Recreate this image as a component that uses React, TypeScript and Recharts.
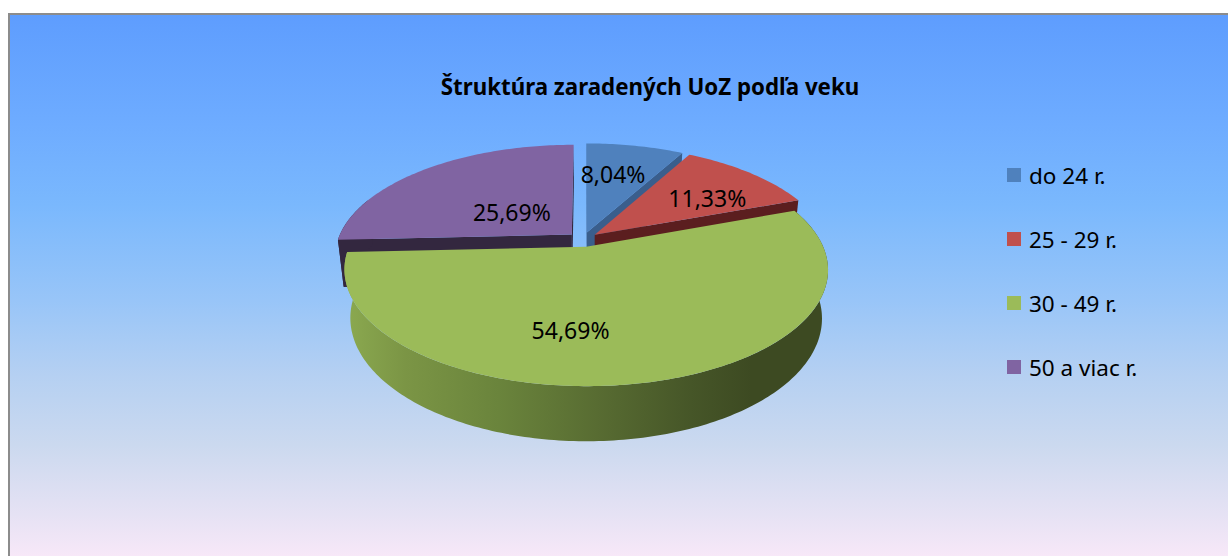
import React from 'react';
import { PieChart, Pie, Legend } from 'recharts';

// ---------- data ----------
const categories = ['do 24 r.', '25 - 29 r.', '30 - 49 r.', '50 a viac r.'];
const shares = [8.04, 11.33, 54.69, 25.69];
const valueLabels = ['8,04%', '11,33%', '54,69%', '25,69%'];
const chartTitle = 'Štruktúra zaradených UoZ podľa veku';

const data = categories.map((name, i) => ({ name, value: shares[i] }));

// ---------- style ----------
const TOP_COLORS = ['#4f81bd', '#c0504d', '#9bbb59', '#8064a2'];
const SIDE_COLORS = ['#3a5e8c', '#5b1e1f', 'url(#greenSide)', '#33273f'];
const LABEL_PLACEMENT = [
  { k: 0.63, dt: -2.7 },
  { k: 0.64, dt: 5.4 },
  { k: 0.65, dt: 16.6 },
  { k: 0.35, dt: -4.6 },
];
const FONT = '"Noto Sans", "Open Sans", sans-serif';

// perspective parameters (unit disk)
const DIST = 4.53;
const SIN_A = 0.466;
const COS_A = 0.885;
const THICK = 0.234;
const EXPLODE = 0.0665;
const CAM_Z = DIST * COS_A;

const rad = (d: number) => (d * Math.PI) / 180;

function geom(p: any) {
  const { cx, cy, outerRadius, startAngle, endAngle, index } = p;
  const t1 = 90 - startAngle;
  const t2 = 90 - endAngle;
  const tm = (t1 + t2) / 2;
  const ex = EXPLODE * Math.sin(rad(tm));
  const ez = -EXPLODE * Math.cos(rad(tm));
  const F = outerRadius * DIST;
  const proj = (X: number, Z: number, H: number) => {
    const depth = DIST - (Z * COS_A + H * SIN_A);
    return [cx + (F * X) / depth, cy + (F * (Z * SIN_A - H * COS_A)) / depth];
  };
  const pt = (t: number, r: number, H: number) =>
    proj(r * Math.sin(rad(t)) + ex, -r * Math.cos(rad(t)) + ez, H);
  const arc = (a: number, b: number, H: number) => {
    const n = Math.max(2, Math.ceil(Math.abs(b - a)));
    const out: number[][] = [];
    for (let i = 0; i <= n; i++) out.push(pt(a + ((b - a) * i) / n, 1, H));
    return out;
  };
  return { t1, t2, tm, ex, ez, pt, arc, cx, outerRadius, index };
}

const toPath = (pts: number[][]) =>
  pts.map((q, i) => `${i ? 'L' : 'M'}${q[0].toFixed(2)},${q[1].toFixed(2)}`).join(' ') + ' Z';

function renderWalls(p: any, front: boolean) {
  const g = geom(p);
  const isFront = Math.cos(rad(g.tm)) < 0;
  if (isFront !== front) return <g key={`w${p.index}`} />;
  const fill = SIDE_COLORS[g.index];
  const parts: React.ReactNode[] = [];
  const faces: [number, number][] = [
    [g.t1, -1],
    [g.t2, 1],
  ];
  faces.forEach(([t, s], j) => {
    const nx = s * Math.cos(rad(t));
    const nz = s * Math.sin(rad(t));
    const vx = 0 - g.ex;
    const vz = CAM_Z - g.ez;
    if (nx * vx + nz * vz > 0) {
      const quad = [g.pt(t, 0, 0), g.pt(t, 1, 0), g.pt(t, 1, -THICK), g.pt(t, 0, -THICK)];
      parts.push(<path key={`f${j}`} d={toPath(quad)} fill={fill} />);
    }
  });
  const a = Math.max(g.t1, 70);
  const b = Math.min(g.t2, 290);
  if (b > a) {
    const pts = [...g.arc(a, b, 0), ...g.arc(b, a, -THICK)];
    parts.push(<path key="rim" d={toPath(pts)} fill={fill} />);
  }
  const x0 = g.cx - g.outerRadius;
  const x1 = g.cx + g.outerRadius;
  return (
    <g key={`w${p.index}`}>
      <defs>
        <linearGradient id="greenSide" gradientUnits="userSpaceOnUse" x1={x0} y1={0} x2={x1} y2={0}>
          <stop offset="0" stopColor="#8aa84f" />
          <stop offset="0.12" stopColor="#7b9545" />
          <stop offset="0.32" stopColor="#6a843c" />
          <stop offset="0.53" stopColor="#586c32" />
          <stop offset="0.73" stopColor="#465628" />
          <stop offset="0.86" stopColor="#3d4a22" />
          <stop offset="1" stopColor="#3d4a22" />
        </linearGradient>
      </defs>
      {parts}
    </g>
  );
}

function renderTop(p: any) {
  const g = geom(p);
  const pts = [g.pt(0, 0, 0), ...g.arc(g.t1, g.t2, 0)];
  return <path key={`t${p.index}`} d={toPath(pts)} fill={TOP_COLORS[g.index]} />;
}

function renderText(p: any) {
  const g = geom(p);
  const lp = LABEL_PLACEMENT[g.index];
  const [x, y] = g.pt(g.tm + lp.dt, lp.k, 0);
  return (
    <text
      key={`l${p.index}`}
      x={x}
      y={y}
      textAnchor="middle"
      dominantBaseline="central"
      fontFamily={FONT}
      fontSize={23}
      fill="#000"
    >
      {valueLabels[g.index]}
    </text>
  );
}

function renderLegend(props: any) {
  const seen = new Set<string>();
  (props.payload || []).forEach((it: any) => seen.add(it.value));
  const list = seen.size ? categories.filter((c) => seen.has(c)) : categories;
  return (
    <div style={{ fontFamily: FONT, fontSize: 22.5, color: '#000' }}>
      {list.map((n) => {
        const i = categories.indexOf(n);
        return (
          <div key={n} style={{ display: 'flex', alignItems: 'center', height: 64 }}>
            <span style={{ width: 14, height: 14, background: TOP_COLORS[i], marginRight: 8, flex: 'none' }} />
            <span style={{ whiteSpace: 'nowrap' }}>{n}</span>
          </div>
        );
      })}
    </div>
  );
}

const pieCommon = {
  data,
  dataKey: 'value',
  nameKey: 'name',
  cx: 583,
  cy: 239.5,
  outerRadius: 234,
  startAngle: 90,
  endAngle: -270,
  isAnimationActive: false,
  fill: 'none',
  stroke: 'none',
  labelLine: false,
};

export default function App() {
  return (
    <div style={{ position: 'relative', width: 1228, height: 556, overflow: 'hidden' }}>
      <style>{`body{margin:0;overflow:hidden}`}</style>
      <div
        style={{
          position: 'absolute',
          left: 8,
          top: 13,
          width: 1220,
          height: 543,
          boxSizing: 'border-box',
          borderTop: '2px solid #8c8c8c',
          borderLeft: '2px solid #8c8c8c',
          background:
            'linear-gradient(180deg, #5e9dfe 0px, #6eacff 110px, #7ab8fd 190px, #98c5f8 285px, #b5d0f2 360px, #cbd9ef 430px, #e6e2f4 500px, #f8e8f8 543px)',
        }}
      />
      <div
        style={{
          position: 'absolute',
          left: 36,
          top: 75,
          width: 1228,
          textAlign: 'center',
          fontFamily: FONT,
          fontWeight: 700,
          fontSize: 22.3,
          lineHeight: '24px',
          color: '#000',
        }}
      >
        {chartTitle}
      </div>
      <div style={{ position: 'absolute', left: 0, top: 0 }}>
        <PieChart width={1228} height={556} margin={{ top: 0, right: 0, bottom: 0, left: 0 }}>
          <Pie {...pieCommon} legendType="none" label={(p: any) => renderWalls(p, false)} />
          <Pie {...pieCommon} legendType="none" label={(p: any) => renderWalls(p, true)} />
          <Pie {...pieCommon} legendType="none" label={renderTop} />
          <Pie {...pieCommon} legendType="square" label={renderText} />
          <Legend
            layout="vertical"
            align="right"
            verticalAlign="top"
            content={renderLegend}
            wrapperStyle={{ position: 'absolute', left: 1007, top: 143, width: 215 }}
          />
        </PieChart>
      </div>
    </div>
  );
}
